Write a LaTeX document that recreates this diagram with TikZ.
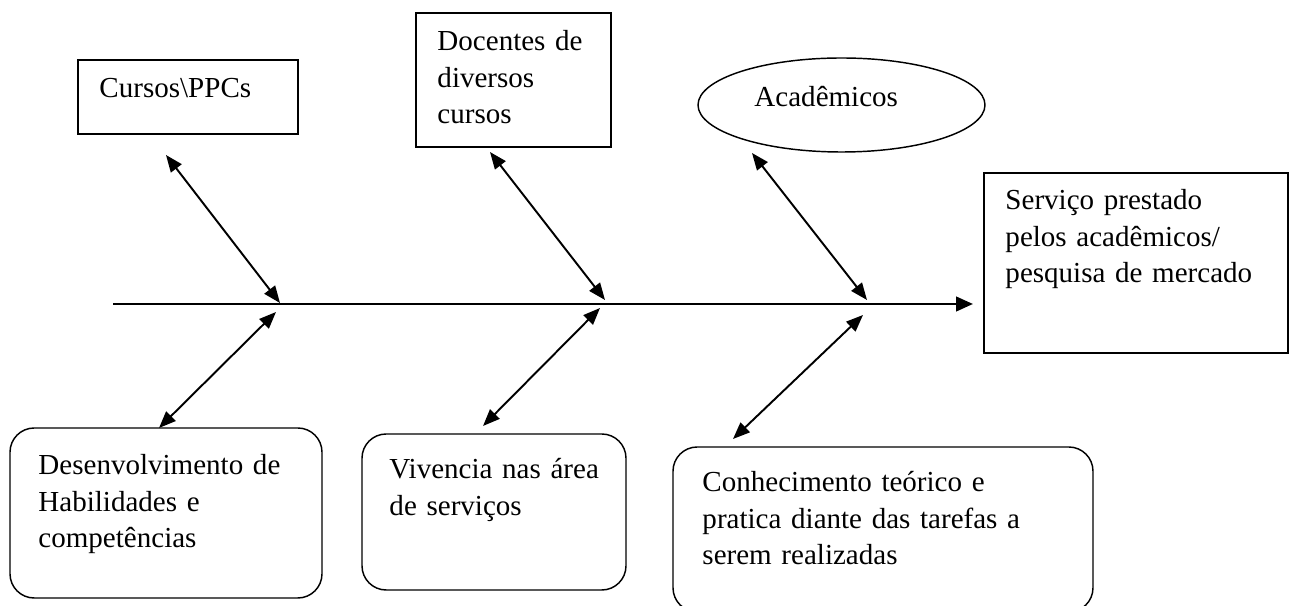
\documentclass[tikz,border=0pt]{standalone}
\usepackage{fontspec}
\setmainfont{Liberation Serif}
\usetikzlibrary{arrows.meta,shapes.geometric,fit}
\begin{document}
\begin{tikzpicture}[x=0.4133pt,y=-0.4133pt,
  sqbox/.style={draw,line width=0.6pt,inner sep=0pt},
  rbox/.style={draw,line width=0.6pt,inner sep=0pt,rounded corners=10pt},
  txt/.style={anchor=base west,inner sep=0pt,align=left,font=\fontsize{12}{15}\selectfont,text width=140pt},
  link/.style={line width=0.8pt,{Triangle[length=7pt,width=5.5pt]}-{Triangle[length=7pt,width=5.5pt]}},
  spine/.style={line width=1.1pt,-{Triangle[length=7pt,width=6pt]}}]
\useasboundingbox (0,0) rectangle (1292,606);
\clip (0,0) rectangle (1292,606);
% boxes
\node[sqbox,fit={(78,60) (298,134)}] (cursos) {};
\node[sqbox,fit={(416,13) (611,147)}] (docentes) {};
\node[draw,ellipse,line width=0.6pt,inner sep=0pt,minimum width=287*0.4133pt,minimum height=94*0.4133pt] (academicos) at (841.5,105) {};
\node[sqbox,fit={(984,173) (1288,353)}] (servico) {};
\node[rbox,fit={(10,428) (322,598)}] (desenv) {};
\node[rbox,fit={(362,434) (626,590)}] (vivencia) {};
\node[rbox,fit={(673,447) (1093,612)}] (conhec) {};
% texts
\node[txt] (cursos-t) at (99,98) {Cursos\textbackslash PPCs};
\node[txt] (docentes-t) at (437,51) {Docentes de\\diversos\\cursos};
\node[txt] (academicos-t) at (754,107) {Acadêmicos};
\node[txt] (servico-t) at (1005,210) {Serviço prestado\\pelos acadêmicos/\\pesquisa de mercado};
\node[txt] (desenv-t) at (38,475) {Desenvolvimento de\\Habilidades e\\competências};
\node[txt] (vivencia-t) at (389,479) {Vivencia nas área\\de serviços};
\node[txt] (conhec-t) at (702,492) {Conhecimento teórico e\\pratica diante das tarefas a\\serem realizadas};
% connector ends
\coordinate (s0) at (113,304);
\coordinate (s1) at (973,304);
\coordinate (c1a) at (166,155); \coordinate (c1b) at (280,303);
\coordinate (c2a) at (490,152); \coordinate (c2b) at (605,300);
\coordinate (c3a) at (752,153); \coordinate (c3b) at (867,300);
\coordinate (d1a) at (276,312); \coordinate (d1b) at (159,428);
\coordinate (d2a) at (600,308); \coordinate (d2b) at (483,426);
\coordinate (d3a) at (863,315); \coordinate (d3b) at (733,439);
% connectors
\draw[spine] (s0) -- (s1);
\draw[link] (c1a) -- (c1b);
\draw[link] (c2a) -- (c2b);
\draw[link] (c3a) -- (c3b);
\draw[link] (d1a) -- (d1b);
\draw[link] (d2a) -- (d2b);
\draw[link] (d3a) -- (d3b);
\end{tikzpicture}
\end{document}
